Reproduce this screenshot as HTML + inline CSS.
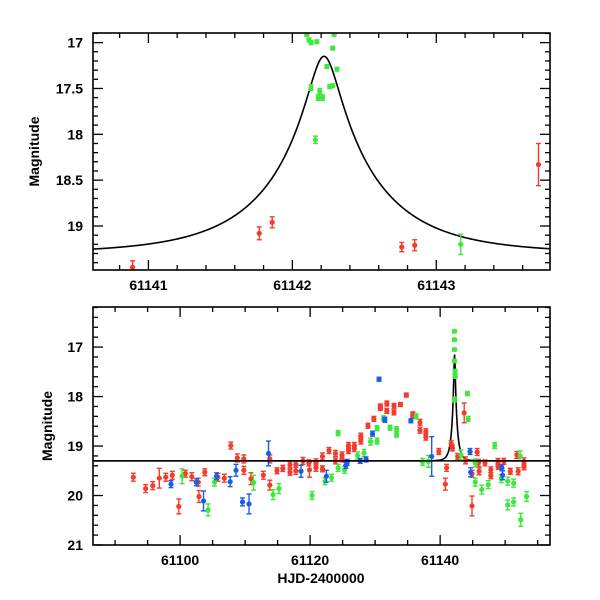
<!DOCTYPE html>
<html><head><meta charset="utf-8"><style>
html,body{margin:0;padding:0;background:#fff;}
svg{display:block;font-family:"Liberation Sans",Helvetica,sans-serif;}
</style></head><body>
<svg id="chart" width="600" height="600" viewBox="0 0 600 600"></svg>
<script>
// ---- data ----
const topRed = [[61140.89,19.45,0.07],[61141.77,19.08,0.07],[61141.86,18.96,0.06],[61142.76,19.23,0.05],[61142.85,19.21,0.06],[61143.71,18.33,0.23]];
const topGreen = [[61142.10,16.91,0.02],[61142.115,16.97,0.02],[61142.13,17.00,0.02],[61142.17,16.99,0.02],[61142.29,16.91,0.02],[61142.28,17.06,0.02],[61142.24,17.26,0.02],[61142.31,17.29,0.02],[61142.13,17.49,0.03],[61142.26,17.48,0.02],[61142.28,17.47,0.02],[61142.19,17.53,0.03],[61142.18,17.60,0.03],[61142.21,17.60,0.03],[61142.16,18.06,0.04],[61143.17,19.20,0.11]];
const botRed = [[61092.8,19.63,.08],[61094.7,19.86,.08],[61095.8,19.80,.08],[61096.8,19.65,.2],[61097.8,19.63,.08],[61098.8,19.59,.08],[61099.8,20.22,.15],[61100.8,19.56,.07],[61101.8,19.62,.08],[61102.8,19.73,.08],[61102.9,20.02,.12],[61103.8,19.53,.07],[61105.8,19.63,.08],[61106.8,19.65,.08],[61107.8,18.99,.07],[61108.8,19.24,.08],[61109.8,19.49,.08],[61109.8,19.26,.08],[61110.9,19.66,.12],[61112.8,19.59,.08],[61113.8,19.26,.08],[61113.8,19.79,.1],[61114.9,19.50,.06],[61115.8,19.45,.06],[61116.9,19.38,.06],[61116.9,19.53,.06],[61117.8,19.37,.06],[61117.8,19.50,.07],[61118.9,19.30,.07],[61119.8,19.34,.06],[61119.9,19.48,.15],[61120.9,19.33,.07],[61120.9,19.44,.07],[61121.9,19.21,.07],[61121.9,19.46,.06],[61122.9,19.09,.06],[61123.9,19.15,.06],[61123.9,19.30,.06],[61124.9,19.18,.06],[61124.9,19.26,.06],[61125.9,19.09,.06],[61125.9,18.99,.06],[61126.8,18.99,.06],[61126.8,19.05,.06],[61127.8,18.80,.06],[61127.8,18.90,.06],[61128.9,18.59,.05],[61129.8,18.45,.05],[61130.8,18.23,.05],[61130.8,18.20,.05],[61131.8,18.14,.05],[61131.8,18.29,.05],[61132.9,18.19,.05],[61132.9,18.32,.05],[61133.9,18.16,.04],[61134.8,17.97,.04],[61135.8,18.36,.05],[61135.8,18.39,.05],[61136.9,18.52,.06],[61136.9,18.68,.06],[61137.8,18.71,.06],[61137.8,18.82,.06],[61139.8,19.11,.06],[61140.8,19.77,.12],[61141.0,19.44,.07],[61141.7,18.95,.06],[61141.9,19.04,.06],[61142.7,19.21,.06],[61143.7,18.33,.2],[61143.9,19.29,.07],[61144.9,19.56,.07],[61144.9,20.21,.2],[61145.7,19.12,.07],[61145.9,19.34,.07],[61146.0,19.51,.07],[61146.9,19.34,.06],[61147.8,19.48,.06],[61147.8,19.60,.06],[61148.9,19.31,.06],[61148.9,19.41,.06],[61149.8,19.31,.06],[61150.8,19.51,.06],[61151.8,19.18,.07],[61152.0,19.51,.07],[61152.9,19.31,.07],[61152.9,19.42,.06]];
const botGreen = [[61100.3,19.61,.15],[61105.3,19.73,.08],[61104.3,20.29,.12],[61111.3,19.74,.15],[61114.3,19.98,.1],[61115.2,19.86,.1],[61120.3,20.00,.08],[61122.3,19.71,.07],[61123.3,19.64,.07],[61124.3,18.74,.05],[61124.3,19.44,.07],[61125.3,19.48,.07],[61127.3,19.19,.07],[61128.3,19.14,.07],[61129.3,18.91,.07],[61130.3,18.90,.06],[61130.3,18.64,.05],[61131.3,18.44,.05],[61132.3,18.63,.05],[61133.3,18.66,.05],[61133.3,18.77,.05],[61136.3,18.40,.05],[61137.3,19.32,.07],[61138.2,19.31,.12],[61142.2,16.68,.03],[61142.2,16.85,.03],[61142.2,17.05,.03],[61142.2,17.28,.03],[61142.3,17.49,.04],[61142.3,17.59,.04],[61142.2,18.06,.05],[61144.2,17.94,.04],[61144.3,18.45,.05],[61143.2,19.18,.1],[61145.4,19.34,.08],[61145.4,19.73,.08],[61146.4,19.88,.09],[61147.4,19.78,.08],[61148.4,18.99,.06],[61149.4,19.66,.08],[61150.4,19.71,.08],[61150.4,20.19,.1],[61151.3,20.13,.08],[61151.3,19.75,.08],[61152.4,20.49,.13],[61153.3,20.02,.1],[61152.3,19.20,.1]];
const botBlue = [[61098.6,19.77,.07],[61102.5,19.73,.07],[61103.6,20.11,.2],[61105.6,19.61,.07],[61107.7,19.72,.1],[61108.6,19.49,.12],[61109.6,20.13,.08],[61110.6,20.17,.2],[61113.6,19.15,.25],[61118.6,19.51,.12],[61122.5,19.61,.12],[61125.5,19.39,.06],[61125.7,19.33,.06],[61127.7,19.30,.05],[61128.6,19.27,.05],[61129.6,18.75,.05],[61130.6,17.65,.04],[61131.5,18.47,.05],[61135.5,18.49,.04],[61138.7,19.21,.4],[61144.6,19.11,.06],[61144.7,19.53,.09],[61149.5,19.44,.06],[61149.6,19.59,.09]];
const topXTicks = [61141, 61142, 61143];
const topYTicks = [17, 17.5, 18, 18.5, 19];
const botXTicks = [61100, 61120, 61140];
const botYTicks = [17, 18, 19, 20, 21];
const modelBase = 19.30, modelT0 = 61142.22, modelU0 = 0.139, modelTE = 0.73;

const COL = {red:'#f43c2c', green:'#3ee83e', blue:'#1a5ee8'};
const NS = 'http://www.w3.org/2000/svg';
const svg = document.getElementById('chart');
function mk(tag, attrs, parent){ const e=document.createElementNS(NS,tag); for(const k in attrs) e.setAttribute(k,attrs[k]); (parent||svg).appendChild(e); return e; }

function model(t){ const u=Math.sqrt(modelU0*modelU0+((t-modelT0)/modelTE)**2); const A=(u*u+2)/(u*Math.sqrt(u*u+4)); return modelBase-2.5*Math.log10(A); }

function panel(cfg){
  const g = mk('g',{});
  
  
  const L=93,R=550,T=cfg.top,B=cfg.bottom;
  const xs = d => L+(d-cfg.x0)/(cfg.x1-cfg.x0)*(R-L);
  const ys = m => T+(m-cfg.y0)/(cfg.y1-cfg.y0)*(B-T);
  const cp = 'clip-'+cfg.name;
  const defs = mk('defs',{},g); const c = mk('clipPath',{id:cp},defs); mk('rect',{x:L,y:T,width:R-L,height:B-T},c);
  const tk = mk('g',{stroke:'#000','stroke-width':1.3},g);
  
  
  for(let v=Math.ceil(cfg.x0/cfg.xMinor)*cfg.xMinor; v<=cfg.x1; v+=cfg.xMinor){
    const major = Math.abs(v/cfg.xMajor-Math.round(v/cfg.xMajor))<1e-6; const len=major?10:5; const x=xs(v);
    mk('line',{x1:x,x2:x,y1:B,y2:B-len},tk); mk('line',{x1:x,x2:x,y1:T,y2:T+len},tk);
  }
  for(let v=Math.ceil(cfg.y0/cfg.yMinor-1e-6)*cfg.yMinor; v<=cfg.y1+1e-6; v+=cfg.yMinor){
    const major = Math.abs(v/cfg.yMajor-Math.round(v/cfg.yMajor))<1e-6; const len=major?10:5; const y=ys(v);
    mk('line',{x1:L,x2:L+len,y1:y,y2:y},tk); mk('line',{x1:R,x2:R-len,y1:y,y2:y},tk);
  }
  cfg.xTicks.forEach(v=>{ const t=mk('text',{x:xs(v),y:B+20,'text-anchor':'middle','font-size':14,'font-weight':'bold'},g); t.textContent=v;
      });
  cfg.yTicks.forEach(v=>{ const t=mk('text',{x:83,y:ys(v)+5,'text-anchor':'end','font-size':14,'font-weight':'bold'},g); t.textContent=v;
      });
  const yl = mk('text',{x:0,y:0,'text-anchor':'middle','font-size':14,'font-weight':'bold',transform:`translate(${cfg.ylx},${(T+B)/2}) rotate(-90)`},g);
  yl.textContent='Magnitude';
   
  let d=''; const n=900;
  for(let i=0;i<=n;i++){ const t=cfg.x0+(cfg.x1-cfg.x0)*i/n; d+=(i?'L':'M')+xs(t).toFixed(2)+','+ys(model(t)).toFixed(2); }
  const p = mk('path',{d:d,fill:'none',stroke:'#000','stroke-width':1.6,'clip-path':`url(#${cp})`},g);
   
  cfg.series.forEach(([arr,col,nm])=>{
    const sg = mk('g',{'clip-path':`url(#${cp})`},g);
     
    arr.forEach(([t,m,e])=>{
      const x=xs(t), y=ys(m), y1=ys(m-e), y2=ys(m+e);
      const pt = mk('g',{stroke:COL[col],'stroke-width':1.4,fill:COL[col]},sg);
       
      mk('line',{x1:x,x2:x,y1:y1,y2:y2},pt);
      mk('line',{x1:x-2.5,x2:x+2.5,y1:y1,y2:y1},pt);
      mk('line',{x1:x-2.5,x2:x+2.5,y1:y2,y2:y2},pt);
      mk('circle',{cx:x,cy:y,r:2.6,stroke:'none'},pt);
    });
  });
  const fr = mk('rect',{x:L,y:T,width:R-L,height:B-T,fill:'none',stroke:'#000','stroke-width':1.6},g);
   
}

panel({name:'top-panel', top:33, bottom:270, x0:61140.615, x1:61143.79, y0:16.895, y1:19.48,
  xMinor:0.2, xMajor:1, yMinor:0.1, yMajor:0.5, xTicks:topXTicks, yTicks:topYTicks, ylx:39,
  series:[[topRed,'red','top-red-series'],[topGreen,'green','top-green-series']]});
panel({name:'bottom-panel', top:307, bottom:545, x0:61086.6, x1:61156.9, y0:16.19, y1:21,
  xMinor:5, xMajor:20, yMinor:0.2, yMajor:1, xTicks:botXTicks, yTicks:botYTicks, ylx:52,
  series:[[botRed,'red','bottom-red-series'],[botGreen,'green','bottom-green-series'],[botBlue,'blue','bottom-blue-series']]});
const bl = mk('line',{x1:93,x2:550,y1:307+(modelBase-16.19)/(21-16.19)*238,y2:307+(modelBase-16.19)/(21-16.19)*238,stroke:'#000','stroke-width':1.4});
 
const xt = mk('text',{x:321,y:583,'text-anchor':'middle','font-size':14,'font-weight':'bold'});
xt.textContent='HJD-2400000';
 
</script>
</body></html>
